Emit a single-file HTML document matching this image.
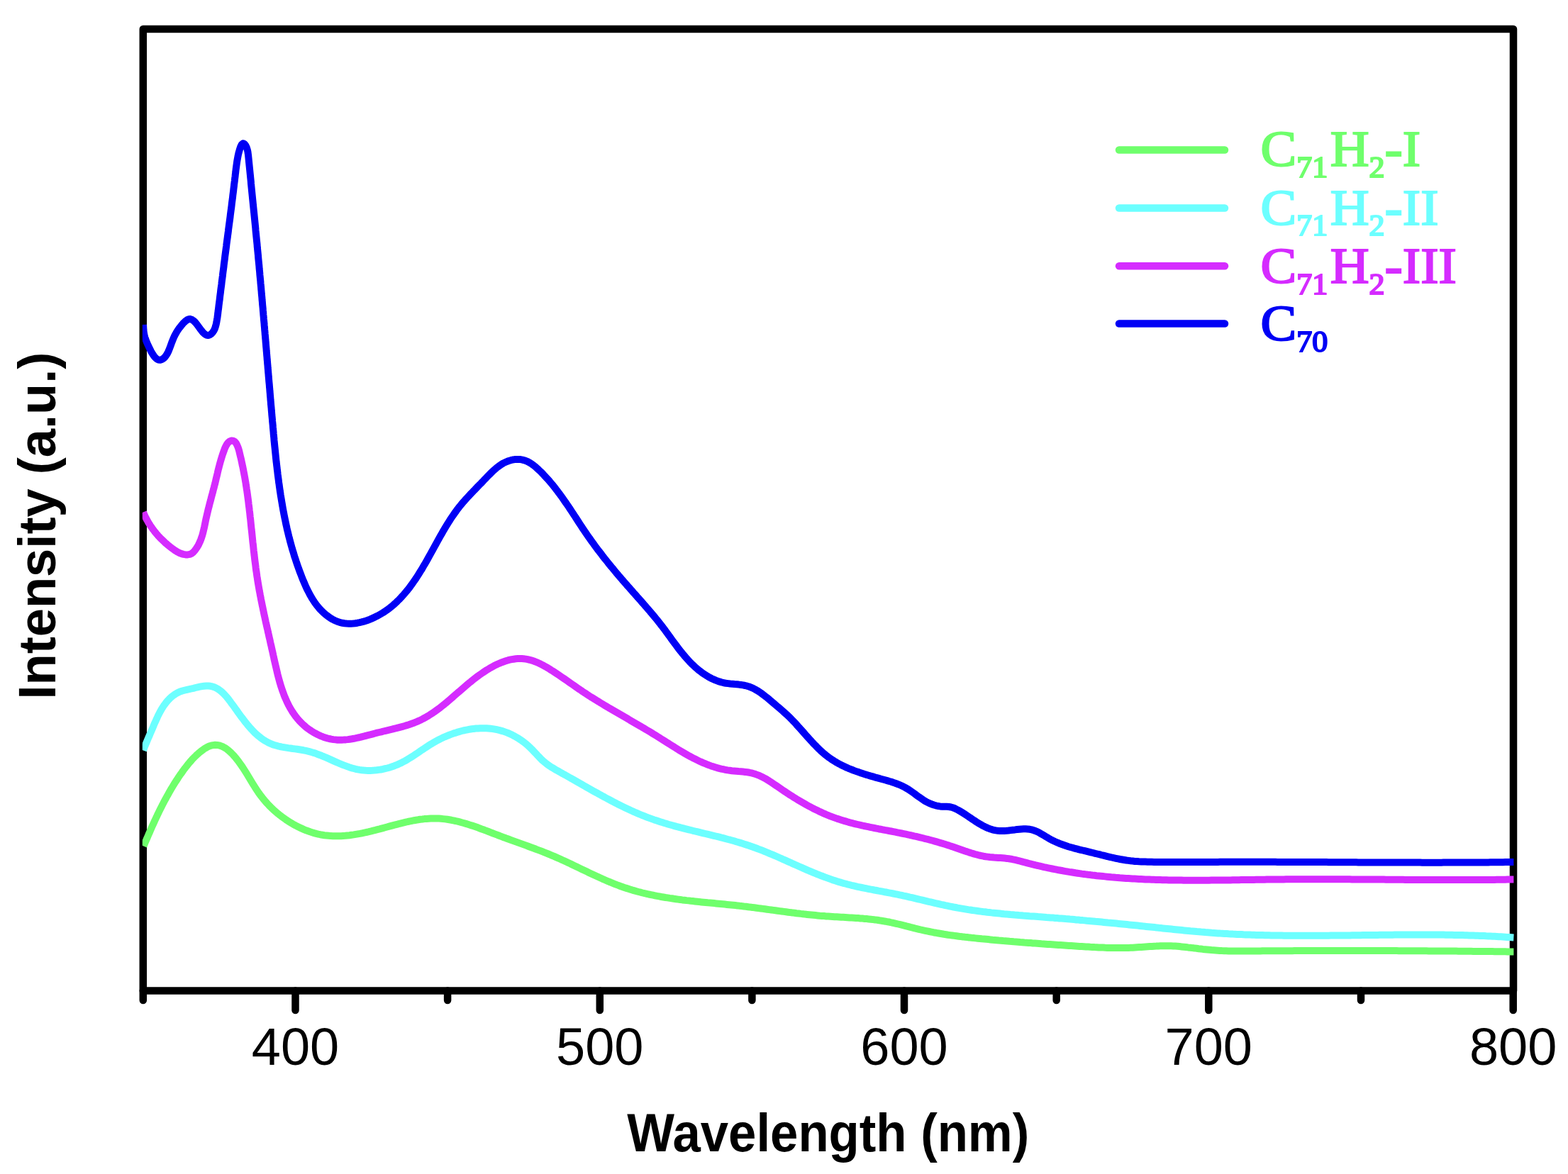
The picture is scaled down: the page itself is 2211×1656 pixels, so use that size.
<!DOCTYPE html>
<html><head><meta charset="utf-8"><title>Intensity vs Wavelength</title>
<style>
html,body{margin:0;padding:0;background:#fff;}
svg{display:block;}
.tl{font-family:"Liberation Sans",Arial,sans-serif;font-size:74px;fill:#000;text-anchor:middle;}
.al{font-family:"Liberation Sans",Arial,sans-serif;font-size:72.5px;font-weight:bold;fill:#000;text-anchor:middle;}
.lg{font-family:"Liberation Serif","Times New Roman",serif;font-size:76px;font-weight:normal;stroke-width:2.2px;}
.lg .sub{font-size:44px;}
</style></head>
<body>
<svg width="2211" height="1656" viewBox="0 0 2211 1656">
<rect width="2211" height="1656" fill="#fff"/>
<g stroke="#000" stroke-width="10.5" stroke-linecap="round">
<line x1="201.8" y1="1397.5" x2="201.8" y2="1411.0"/>
<line x1="416.5" y1="1397.5" x2="416.5" y2="1425.0"/>
<line x1="631.1" y1="1397.5" x2="631.1" y2="1411.0"/>
<line x1="845.8" y1="1397.5" x2="845.8" y2="1425.0"/>
<line x1="1060.4" y1="1397.5" x2="1060.4" y2="1411.0"/>
<line x1="1275.0" y1="1397.5" x2="1275.0" y2="1425.0"/>
<line x1="1489.7" y1="1397.5" x2="1489.7" y2="1411.0"/>
<line x1="1704.3" y1="1397.5" x2="1704.3" y2="1425.0"/>
<line x1="1919.0" y1="1397.5" x2="1919.0" y2="1411.0"/>
<line x1="2133.7" y1="1397.5" x2="2133.7" y2="1425.0"/>
</g>
<rect x="201.8" y="41.0" width="1932.2" height="1356.5" fill="none" stroke="#000" stroke-width="10.5" stroke-linejoin="round"/>
<defs><clipPath id="pa"><rect x="200.8" y="0" width="1934" height="1656"/></clipPath></defs>
<g fill="none" stroke-width="10" stroke-linecap="butt" stroke-linejoin="round" clip-path="url(#pa)">
<path d="M202.5 1193.5 L203.7 1190.7 L204.9 1187.9 L206.1 1185.1 L207.3 1182.4 L208.5 1179.6 L209.7 1176.8 L210.9 1174.1 L212.1 1171.3 L213.3 1168.5 L214.5 1165.8 L215.7 1163.1 L217.0 1160.3 L218.2 1157.6 L219.5 1154.9 L220.8 1152.2 L222.0 1149.5 L223.3 1146.8 L224.6 1144.1 L225.9 1141.5 L227.3 1138.8 L228.6 1136.1 L230.0 1133.5 L231.4 1130.8 L232.8 1128.2 L234.2 1125.6 L235.6 1123.0 L237.1 1120.4 L238.5 1117.8 L240.0 1115.2 L241.5 1112.6 L243.1 1110.0 L244.6 1107.5 L246.2 1104.9 L247.8 1102.4 L249.5 1099.9 L251.1 1097.3 L252.8 1094.8 L254.5 1092.3 L256.3 1089.9 L258.0 1087.4 L259.8 1084.9 L261.7 1082.5 L263.6 1080.1 L265.5 1077.7 L267.4 1075.4 L269.4 1073.1 L271.4 1070.8 L273.5 1068.6 L275.7 1066.5 L277.8 1064.4 L280.1 1062.4 L282.4 1060.5 L284.7 1058.7 L287.1 1056.9 L289.6 1055.3 L292.2 1053.8 L294.8 1052.6 L297.6 1051.7 L300.4 1051.1 L303.3 1050.8 L306.2 1050.9 L309.0 1051.4 L311.7 1052.2 L314.4 1053.4 L317.0 1054.8 L319.5 1056.4 L321.9 1058.3 L324.3 1060.4 L326.6 1062.6 L328.8 1064.9 L331.0 1067.4 L333.0 1069.8 L335.0 1072.3 L336.9 1074.8 L338.7 1077.3 L340.5 1079.9 L342.2 1082.4 L343.8 1084.9 L345.4 1087.4 L347.0 1089.9 L348.6 1092.5 L350.1 1095.0 L351.6 1097.5 L353.1 1100.0 L354.6 1102.5 L356.1 1105.0 L357.6 1107.4 L359.2 1109.9 L360.7 1112.3 L362.3 1114.7 L363.9 1117.1 L365.6 1119.5 L367.3 1121.9 L369.1 1124.2 L370.9 1126.5 L372.8 1128.8 L374.8 1131.1 L376.8 1133.3 L378.8 1135.5 L380.9 1137.7 L383.1 1139.8 L385.3 1141.9 L387.6 1143.9 L389.9 1145.9 L392.2 1147.9 L394.6 1149.8 L397.0 1151.7 L399.5 1153.5 L402.0 1155.3 L404.5 1157.1 L407.1 1158.7 L409.7 1160.4 L412.4 1161.9 L415.0 1163.5 L417.7 1164.9 L420.4 1166.3 L423.2 1167.6 L426.0 1168.9 L428.7 1170.1 L431.6 1171.3 L434.4 1172.3 L437.2 1173.3 L440.1 1174.2 L443.0 1175.1 L445.8 1175.9 L448.7 1176.6 L451.6 1177.2 L454.6 1177.7 L457.5 1178.2 L460.4 1178.5 L463.3 1178.8 L466.2 1179.1 L469.2 1179.2 L472.1 1179.3 L475.0 1179.3 L478.0 1179.3 L480.9 1179.2 L483.9 1179.0 L486.8 1178.8 L489.8 1178.5 L492.7 1178.2 L495.7 1177.8 L498.6 1177.4 L501.6 1176.9 L504.6 1176.4 L507.5 1175.9 L510.5 1175.3 L513.4 1174.7 L516.4 1174.0 L519.3 1173.4 L522.3 1172.7 L525.2 1171.9 L528.2 1171.2 L531.1 1170.4 L534.1 1169.7 L537.0 1168.9 L540.0 1168.1 L542.9 1167.3 L545.8 1166.5 L548.8 1165.7 L551.7 1164.9 L554.6 1164.1 L557.5 1163.3 L560.5 1162.6 L563.4 1161.8 L566.3 1161.1 L569.3 1160.4 L572.2 1159.7 L575.1 1159.0 L578.0 1158.4 L580.9 1157.8 L583.9 1157.2 L586.8 1156.7 L589.7 1156.3 L592.6 1155.8 L595.6 1155.5 L598.5 1155.1 L601.4 1154.9 L604.3 1154.7 L607.2 1154.5 L610.2 1154.4 L613.1 1154.4 L616.0 1154.5 L618.9 1154.6 L621.9 1154.8 L624.8 1155.1 L627.7 1155.4 L630.6 1155.8 L633.6 1156.3 L636.5 1156.8 L639.4 1157.4 L642.3 1158.0 L645.3 1158.7 L648.2 1159.4 L651.1 1160.2 L654.0 1161.0 L657.0 1161.9 L659.9 1162.8 L662.8 1163.7 L665.7 1164.6 L668.6 1165.6 L671.5 1166.6 L674.4 1167.6 L677.3 1168.7 L680.2 1169.8 L683.1 1170.8 L686.0 1171.9 L688.9 1173.0 L691.7 1174.1 L694.6 1175.2 L697.5 1176.3 L700.4 1177.4 L703.2 1178.5 L706.1 1179.6 L708.9 1180.7 L711.8 1181.7 L714.6 1182.8 L717.4 1183.8 L720.3 1184.9 L723.1 1185.9 L725.9 1186.9 L728.7 1187.9 L731.5 1188.9 L734.3 1189.9 L737.1 1190.9 L739.9 1191.9 L742.7 1192.9 L745.5 1194.0 L748.2 1195.0 L751.0 1196.0 L753.8 1197.0 L756.5 1198.1 L759.3 1199.1 L762.1 1200.1 L764.8 1201.2 L767.6 1202.3 L770.3 1203.4 L773.1 1204.5 L775.8 1205.6 L778.6 1206.8 L781.3 1207.9 L784.0 1209.1 L786.8 1210.3 L789.5 1211.5 L792.2 1212.8 L795.0 1214.0 L797.7 1215.3 L800.4 1216.6 L803.1 1217.8 L805.9 1219.1 L808.6 1220.4 L811.3 1221.7 L814.0 1223.0 L816.8 1224.4 L819.5 1225.7 L822.2 1227.0 L825.0 1228.3 L827.7 1229.6 L830.4 1230.9 L833.2 1232.2 L835.9 1233.5 L838.7 1234.8 L841.4 1236.0 L844.2 1237.3 L846.9 1238.5 L849.7 1239.8 L852.5 1241.0 L855.2 1242.2 L858.0 1243.4 L860.8 1244.5 L863.6 1245.7 L866.4 1246.8 L869.2 1247.9 L872.0 1248.9 L874.8 1250.0 L877.6 1251.0 L880.4 1252.0 L883.3 1252.9 L886.1 1253.8 L889.0 1254.7 L891.8 1255.6 L894.7 1256.4 L897.6 1257.2 L900.4 1258.0 L903.3 1258.7 L906.2 1259.5 L909.1 1260.2 L912.0 1260.8 L914.9 1261.5 L917.8 1262.1 L920.8 1262.7 L923.7 1263.3 L926.6 1263.9 L929.5 1264.4 L932.5 1265.0 L935.4 1265.5 L938.4 1266.0 L941.3 1266.4 L944.3 1266.9 L947.2 1267.3 L950.2 1267.8 L953.2 1268.2 L956.1 1268.6 L959.1 1269.0 L962.1 1269.4 L965.1 1269.7 L968.1 1270.1 L971.0 1270.4 L974.0 1270.8 L977.0 1271.1 L980.0 1271.4 L983.0 1271.7 L986.0 1272.1 L989.0 1272.4 L992.0 1272.7 L995.0 1273.0 L998.0 1273.3 L1001.0 1273.5 L1004.0 1273.8 L1007.0 1274.1 L1010.0 1274.4 L1013.0 1274.7 L1016.0 1275.0 L1019.0 1275.3 L1022.0 1275.6 L1025.0 1275.9 L1028.0 1276.2 L1031.0 1276.5 L1033.9 1276.8 L1036.9 1277.1 L1039.9 1277.4 L1042.9 1277.8 L1045.9 1278.1 L1048.9 1278.5 L1051.9 1278.8 L1054.9 1279.2 L1057.8 1279.6 L1060.8 1279.9 L1063.8 1280.3 L1066.8 1280.7 L1069.7 1281.1 L1072.7 1281.5 L1075.7 1281.9 L1078.7 1282.3 L1081.6 1282.7 L1084.6 1283.1 L1087.6 1283.5 L1090.5 1283.9 L1093.5 1284.3 L1096.5 1284.7 L1099.5 1285.1 L1102.4 1285.5 L1105.4 1285.9 L1108.4 1286.3 L1111.3 1286.7 L1114.3 1287.1 L1117.3 1287.4 L1120.2 1287.8 L1123.2 1288.2 L1126.2 1288.5 L1129.2 1288.9 L1132.1 1289.2 L1135.1 1289.6 L1138.1 1289.9 L1141.1 1290.2 L1144.1 1290.5 L1147.0 1290.8 L1150.0 1291.1 L1153.0 1291.4 L1156.0 1291.7 L1159.0 1291.9 L1162.0 1292.1 L1165.0 1292.4 L1168.0 1292.6 L1171.0 1292.8 L1174.0 1293.0 L1177.0 1293.2 L1180.0 1293.3 L1183.0 1293.5 L1186.0 1293.7 L1189.0 1293.8 L1192.0 1294.0 L1195.0 1294.2 L1198.0 1294.4 L1201.0 1294.5 L1204.1 1294.7 L1207.1 1294.9 L1210.1 1295.1 L1213.1 1295.4 L1216.1 1295.6 L1219.1 1295.9 L1222.0 1296.1 L1225.0 1296.4 L1228.0 1296.7 L1231.0 1297.1 L1234.0 1297.4 L1237.0 1297.8 L1239.9 1298.3 L1242.9 1298.7 L1245.9 1299.2 L1248.8 1299.7 L1251.8 1300.3 L1254.7 1300.8 L1257.7 1301.5 L1260.6 1302.1 L1263.5 1302.8 L1266.5 1303.5 L1269.4 1304.2 L1272.3 1304.9 L1275.2 1305.6 L1278.1 1306.4 L1281.1 1307.1 L1284.0 1307.9 L1286.9 1308.6 L1289.8 1309.4 L1292.8 1310.1 L1295.7 1310.8 L1298.6 1311.5 L1301.5 1312.2 L1304.5 1312.8 L1307.4 1313.4 L1310.4 1314.0 L1313.3 1314.6 L1316.3 1315.2 L1319.2 1315.7 L1322.2 1316.3 L1325.1 1316.8 L1328.1 1317.3 L1331.0 1317.8 L1334.0 1318.2 L1336.9 1318.7 L1339.9 1319.1 L1342.9 1319.5 L1345.9 1319.9 L1348.8 1320.3 L1351.8 1320.7 L1354.8 1321.1 L1357.8 1321.4 L1360.7 1321.8 L1363.7 1322.1 L1366.7 1322.4 L1369.7 1322.8 L1372.7 1323.1 L1375.6 1323.4 L1378.6 1323.7 L1381.6 1324.0 L1384.6 1324.3 L1387.6 1324.5 L1390.6 1324.8 L1393.6 1325.1 L1396.6 1325.4 L1399.5 1325.7 L1402.5 1325.9 L1405.5 1326.2 L1408.5 1326.5 L1411.5 1326.7 L1414.5 1327.0 L1417.5 1327.2 L1420.5 1327.5 L1423.5 1327.8 L1426.5 1328.0 L1429.5 1328.3 L1432.5 1328.5 L1435.5 1328.7 L1438.5 1329.0 L1441.5 1329.2 L1444.4 1329.5 L1447.4 1329.7 L1450.4 1329.9 L1453.4 1330.1 L1456.4 1330.4 L1459.4 1330.6 L1462.4 1330.8 L1465.4 1331.0 L1468.4 1331.3 L1471.4 1331.5 L1474.4 1331.7 L1477.4 1331.9 L1480.4 1332.1 L1483.4 1332.3 L1486.4 1332.5 L1489.4 1332.7 L1492.4 1332.9 L1495.4 1333.1 L1498.4 1333.3 L1501.4 1333.5 L1504.4 1333.7 L1507.4 1333.9 L1510.4 1334.1 L1513.4 1334.3 L1516.4 1334.5 L1519.4 1334.7 L1522.4 1334.9 L1525.4 1335.0 L1528.4 1335.2 L1531.4 1335.4 L1534.4 1335.6 L1537.4 1335.8 L1540.4 1335.9 L1543.4 1336.1 L1546.4 1336.2 L1549.4 1336.4 L1552.4 1336.5 L1555.4 1336.6 L1558.4 1336.8 L1561.3 1336.9 L1564.3 1336.9 L1567.3 1337.0 L1570.3 1337.1 L1573.3 1337.1 L1576.3 1337.1 L1579.3 1337.1 L1582.3 1337.1 L1585.3 1337.1 L1588.3 1337.0 L1591.3 1336.9 L1594.3 1336.8 L1597.3 1336.7 L1600.3 1336.5 L1603.3 1336.3 L1606.3 1336.1 L1609.3 1335.9 L1612.3 1335.7 L1615.3 1335.5 L1618.3 1335.3 L1621.3 1335.1 L1624.3 1334.9 L1627.4 1334.7 L1630.4 1334.6 L1633.4 1334.4 L1636.4 1334.3 L1639.4 1334.2 L1642.4 1334.2 L1645.4 1334.2 L1648.3 1334.2 L1651.3 1334.3 L1654.3 1334.4 L1657.3 1334.6 L1660.3 1334.8 L1663.3 1335.1 L1666.3 1335.4 L1669.3 1335.7 L1672.3 1336.0 L1675.3 1336.4 L1678.3 1336.7 L1681.3 1337.1 L1684.3 1337.4 L1687.3 1337.8 L1690.2 1338.2 L1693.2 1338.5 L1696.2 1338.9 L1699.2 1339.2 L1702.2 1339.5 L1705.2 1339.8 L1708.2 1340.1 L1711.2 1340.3 L1714.2 1340.5 L1717.1 1340.7 L1720.1 1340.9 L1723.1 1341.1 L1726.1 1341.2 L1729.1 1341.3 L1732.1 1341.4 L1735.1 1341.4 L1738.1 1341.5 L1741.1 1341.5 L1744.1 1341.5 L1747.1 1341.5 L1750.1 1341.5 L1753.1 1341.5 L1756.1 1341.5 L1759.1 1341.5 L1762.1 1341.5 L1765.1 1341.4 L1768.1 1341.4 L1771.2 1341.4 L1774.2 1341.4 L1777.2 1341.4 L1780.2 1341.3 L1783.2 1341.3 L1786.2 1341.3 L1789.2 1341.3 L1792.2 1341.3 L1795.2 1341.3 L1798.2 1341.3 L1801.2 1341.2 L1804.2 1341.2 L1807.2 1341.2 L1810.2 1341.2 L1813.2 1341.2 L1816.2 1341.2 L1819.2 1341.2 L1822.2 1341.2 L1825.2 1341.1 L1828.2 1341.1 L1831.2 1341.1 L1834.2 1341.1 L1837.2 1341.1 L1840.2 1341.1 L1843.2 1341.1 L1846.2 1341.1 L1849.2 1341.1 L1852.2 1341.1 L1855.2 1341.1 L1858.2 1341.1 L1861.2 1341.0 L1864.2 1341.0 L1867.2 1341.0 L1870.2 1341.0 L1873.2 1341.0 L1876.3 1341.0 L1879.3 1341.0 L1882.3 1341.0 L1885.3 1341.0 L1888.3 1341.0 L1891.3 1341.0 L1894.3 1341.0 L1897.3 1341.0 L1900.3 1341.0 L1903.3 1341.0 L1906.3 1341.0 L1909.3 1341.0 L1912.3 1341.0 L1915.3 1341.0 L1918.3 1341.0 L1921.3 1341.0 L1924.3 1341.0 L1927.3 1341.0 L1930.3 1341.0 L1933.3 1341.0 L1936.3 1341.1 L1939.3 1341.1 L1942.3 1341.1 L1945.3 1341.1 L1948.3 1341.1 L1951.3 1341.1 L1954.3 1341.1 L1957.3 1341.1 L1960.3 1341.1 L1963.3 1341.1 L1966.3 1341.1 L1969.3 1341.1 L1972.3 1341.2 L1975.3 1341.2 L1978.3 1341.2 L1981.3 1341.2 L1984.3 1341.2 L1987.4 1341.2 L1990.4 1341.2 L1993.4 1341.2 L1996.4 1341.3 L1999.4 1341.3 L2002.4 1341.3 L2005.4 1341.3 L2008.4 1341.3 L2011.4 1341.3 L2014.4 1341.4 L2017.4 1341.4 L2020.4 1341.4 L2023.4 1341.4 L2026.4 1341.4 L2029.4 1341.5 L2032.4 1341.5 L2035.4 1341.5 L2038.4 1341.5 L2041.4 1341.5 L2044.4 1341.6 L2047.4 1341.6 L2050.4 1341.6 L2053.4 1341.6 L2056.4 1341.7 L2059.4 1341.7 L2062.4 1341.7 L2065.4 1341.7 L2068.4 1341.8 L2071.4 1341.8 L2074.4 1341.8 L2077.4 1341.9 L2080.4 1341.9 L2083.4 1341.9 L2086.4 1341.9 L2089.5 1342.0 L2092.5 1342.0 L2095.5 1342.0 L2098.5 1342.1 L2101.5 1342.1 L2104.5 1342.1 L2107.5 1342.2 L2110.5 1342.2 L2113.5 1342.2 L2116.5 1342.3 L2119.5 1342.3 L2122.5 1342.3 L2125.5 1342.4 L2128.5 1342.4 L2131.5 1342.5 L2134.5 1342.5" stroke="#6fff6c"/>
<path d="M202.0 1058.5 L203.1 1055.7 L204.2 1052.8 L205.4 1050.0 L206.5 1047.3 L207.7 1044.5 L208.8 1041.8 L210.0 1039.1 L211.2 1036.4 L212.3 1033.7 L213.5 1031.0 L214.7 1028.2 L215.9 1025.4 L217.0 1022.6 L218.2 1019.8 L219.5 1017.1 L220.7 1014.3 L222.0 1011.5 L223.3 1008.7 L224.7 1006.0 L226.1 1003.4 L227.6 1000.7 L229.2 998.1 L230.8 995.6 L232.6 993.2 L234.4 990.8 L236.3 988.5 L238.3 986.4 L240.4 984.3 L242.6 982.4 L244.9 980.6 L247.3 979.0 L249.8 977.5 L252.4 976.2 L255.1 975.1 L258.0 974.3 L260.9 973.5 L263.8 972.8 L266.8 972.2 L269.8 971.5 L272.8 970.8 L275.8 970.0 L278.8 969.3 L281.8 968.7 L284.8 968.1 L287.8 967.7 L290.8 967.5 L293.7 967.5 L296.7 967.8 L299.5 968.4 L302.2 969.3 L304.8 970.5 L307.3 971.9 L309.6 973.5 L311.9 975.2 L314.1 977.2 L316.2 979.3 L318.2 981.5 L320.2 983.8 L322.1 986.2 L324.0 988.7 L325.8 991.2 L327.7 993.7 L329.5 996.2 L331.3 998.7 L333.2 1001.2 L335.0 1003.8 L336.8 1006.3 L338.6 1008.8 L340.4 1011.3 L342.3 1013.7 L344.1 1016.2 L346.0 1018.6 L347.9 1020.9 L349.8 1023.3 L351.7 1025.5 L353.7 1027.8 L355.7 1029.9 L357.7 1032.0 L359.8 1034.1 L361.9 1036.0 L364.1 1037.9 L366.3 1039.7 L368.6 1041.5 L370.9 1043.1 L373.2 1044.6 L375.7 1046.0 L378.2 1047.4 L380.7 1048.6 L383.4 1049.7 L386.1 1050.7 L388.9 1051.5 L391.7 1052.3 L394.6 1053.0 L397.5 1053.6 L400.5 1054.1 L403.5 1054.6 L406.6 1055.1 L409.6 1055.5 L412.7 1056.0 L415.8 1056.4 L418.9 1056.8 L422.0 1057.3 L425.1 1057.8 L428.1 1058.3 L431.2 1058.9 L434.2 1059.6 L437.2 1060.4 L440.1 1061.2 L443.0 1062.1 L445.9 1063.1 L448.8 1064.2 L451.6 1065.2 L454.4 1066.4 L457.2 1067.5 L460.0 1068.7 L462.8 1069.9 L465.5 1071.1 L468.3 1072.4 L471.0 1073.6 L473.8 1074.8 L476.5 1076.0 L479.2 1077.2 L482.0 1078.3 L484.7 1079.4 L487.5 1080.4 L490.2 1081.4 L493.0 1082.4 L495.8 1083.3 L498.6 1084.0 L501.5 1084.8 L504.3 1085.4 L507.2 1085.9 L510.1 1086.3 L513.1 1086.6 L516.0 1086.8 L519.0 1086.9 L522.0 1086.9 L525.0 1086.8 L528.0 1086.6 L531.1 1086.3 L534.1 1085.9 L537.1 1085.5 L540.1 1084.9 L543.0 1084.2 L546.0 1083.5 L548.9 1082.7 L551.8 1081.8 L554.7 1080.8 L557.5 1079.7 L560.3 1078.6 L563.1 1077.3 L565.8 1076.1 L568.4 1074.7 L571.0 1073.3 L573.6 1071.8 L576.1 1070.3 L578.6 1068.8 L581.1 1067.2 L583.6 1065.6 L586.1 1063.9 L588.5 1062.3 L591.0 1060.6 L593.4 1058.9 L595.9 1057.3 L598.4 1055.6 L600.9 1054.0 L603.4 1052.3 L605.9 1050.7 L608.5 1049.2 L611.0 1047.6 L613.7 1046.1 L616.3 1044.7 L619.0 1043.3 L621.8 1041.9 L624.5 1040.6 L627.3 1039.3 L630.1 1038.1 L632.9 1037.0 L635.8 1035.9 L638.7 1034.8 L641.6 1033.9 L644.5 1032.9 L647.4 1032.1 L650.3 1031.3 L653.3 1030.5 L656.2 1029.9 L659.2 1029.3 L662.2 1028.7 L665.2 1028.3 L668.1 1027.9 L671.1 1027.6 L674.1 1027.4 L677.1 1027.2 L680.0 1027.2 L683.0 1027.2 L686.0 1027.3 L688.9 1027.5 L691.9 1027.8 L694.8 1028.1 L697.7 1028.6 L700.6 1029.2 L703.5 1029.8 L706.3 1030.6 L709.2 1031.4 L712.0 1032.4 L714.8 1033.4 L717.6 1034.5 L720.3 1035.8 L723.0 1037.1 L725.7 1038.5 L728.3 1040.0 L730.9 1041.6 L733.4 1043.2 L735.9 1044.9 L738.4 1046.7 L740.8 1048.6 L743.1 1050.6 L745.4 1052.6 L747.6 1054.7 L749.8 1056.8 L751.9 1059.0 L754.0 1061.2 L756.1 1063.4 L758.1 1065.6 L760.2 1067.8 L762.3 1070.0 L764.4 1072.1 L766.6 1074.0 L768.9 1075.9 L771.2 1077.7 L773.6 1079.5 L776.0 1081.1 L778.5 1082.7 L781.1 1084.2 L783.6 1085.8 L786.2 1087.2 L788.8 1088.7 L791.4 1090.1 L794.0 1091.6 L796.7 1093.0 L799.3 1094.5 L801.9 1096.0 L804.5 1097.5 L807.1 1098.9 L809.7 1100.4 L812.3 1101.9 L814.9 1103.4 L817.6 1104.9 L820.2 1106.4 L822.8 1107.9 L825.4 1109.3 L828.0 1110.8 L830.7 1112.3 L833.3 1113.8 L835.9 1115.3 L838.5 1116.8 L841.2 1118.2 L843.8 1119.7 L846.5 1121.1 L849.1 1122.6 L851.7 1124.0 L854.4 1125.5 L857.0 1126.9 L859.7 1128.3 L862.4 1129.7 L865.0 1131.1 L867.7 1132.5 L870.4 1133.9 L873.1 1135.2 L875.8 1136.6 L878.4 1137.9 L881.1 1139.2 L883.9 1140.5 L886.6 1141.7 L889.3 1143.0 L892.0 1144.2 L894.7 1145.5 L897.5 1146.7 L900.2 1147.8 L903.0 1149.0 L905.7 1150.1 L908.5 1151.2 L911.3 1152.3 L914.1 1153.4 L916.9 1154.4 L919.7 1155.4 L922.5 1156.4 L925.3 1157.3 L928.2 1158.3 L931.0 1159.2 L933.8 1160.1 L936.7 1161.0 L939.5 1161.8 L942.4 1162.7 L945.3 1163.5 L948.2 1164.3 L951.0 1165.1 L953.9 1165.9 L956.8 1166.6 L959.7 1167.4 L962.6 1168.1 L965.5 1168.9 L968.4 1169.6 L971.3 1170.3 L974.2 1171.0 L977.1 1171.8 L980.0 1172.5 L983.0 1173.2 L985.9 1173.9 L988.8 1174.6 L991.7 1175.3 L994.6 1176.0 L997.5 1176.7 L1000.5 1177.4 L1003.4 1178.1 L1006.3 1178.8 L1009.2 1179.5 L1012.1 1180.2 L1015.0 1180.9 L1017.9 1181.7 L1020.8 1182.4 L1023.7 1183.2 L1026.6 1184.0 L1029.5 1184.7 L1032.4 1185.5 L1035.3 1186.3 L1038.2 1187.2 L1041.0 1188.0 L1043.9 1188.9 L1046.8 1189.8 L1049.6 1190.7 L1052.5 1191.6 L1055.3 1192.5 L1058.1 1193.5 L1061.0 1194.5 L1063.8 1195.5 L1066.6 1196.5 L1069.4 1197.6 L1072.2 1198.6 L1075.0 1199.7 L1077.8 1200.8 L1080.6 1202.0 L1083.3 1203.1 L1086.1 1204.3 L1088.9 1205.4 L1091.7 1206.6 L1094.4 1207.8 L1097.2 1209.0 L1099.9 1210.2 L1102.7 1211.4 L1105.4 1212.7 L1108.2 1213.9 L1110.9 1215.1 L1113.7 1216.3 L1116.4 1217.6 L1119.2 1218.8 L1121.9 1220.0 L1124.7 1221.3 L1127.4 1222.5 L1130.2 1223.7 L1132.9 1224.9 L1135.7 1226.1 L1138.5 1227.3 L1141.2 1228.5 L1144.0 1229.6 L1146.8 1230.8 L1149.5 1231.9 L1152.3 1233.1 L1155.1 1234.2 L1157.9 1235.3 L1160.7 1236.3 L1163.5 1237.4 L1166.3 1238.4 L1169.1 1239.4 L1171.9 1240.4 L1174.8 1241.4 L1177.6 1242.3 L1180.4 1243.2 L1183.3 1244.1 L1186.2 1244.9 L1189.0 1245.8 L1191.9 1246.5 L1194.8 1247.3 L1197.7 1248.0 L1200.6 1248.8 L1203.5 1249.4 L1206.5 1250.1 L1209.4 1250.8 L1212.3 1251.4 L1215.2 1252.0 L1218.2 1252.6 L1221.1 1253.2 L1224.1 1253.8 L1227.0 1254.4 L1230.0 1254.9 L1232.9 1255.5 L1235.9 1256.0 L1238.9 1256.6 L1241.8 1257.1 L1244.8 1257.7 L1247.8 1258.3 L1250.7 1258.8 L1253.7 1259.4 L1256.6 1259.9 L1259.6 1260.5 L1262.5 1261.1 L1265.5 1261.7 L1268.4 1262.3 L1271.4 1262.9 L1274.3 1263.6 L1277.3 1264.2 L1280.2 1264.9 L1283.1 1265.6 L1286.1 1266.2 L1289.0 1266.9 L1291.9 1267.6 L1294.9 1268.3 L1297.8 1269.0 L1300.7 1269.7 L1303.6 1270.4 L1306.6 1271.1 L1309.5 1271.8 L1312.4 1272.4 L1315.3 1273.1 L1318.2 1273.8 L1321.2 1274.5 L1324.1 1275.1 L1327.0 1275.8 L1330.0 1276.4 L1332.9 1277.1 L1335.8 1277.7 L1338.7 1278.3 L1341.7 1278.9 L1344.6 1279.5 L1347.6 1280.0 L1350.5 1280.6 L1353.5 1281.1 L1356.4 1281.6 L1359.4 1282.1 L1362.3 1282.6 L1365.3 1283.1 L1368.2 1283.5 L1371.2 1284.0 L1374.2 1284.4 L1377.1 1284.8 L1380.1 1285.2 L1383.1 1285.6 L1386.0 1286.0 L1389.0 1286.3 L1392.0 1286.7 L1395.0 1287.0 L1398.0 1287.4 L1400.9 1287.7 L1403.9 1288.0 L1406.9 1288.3 L1409.9 1288.6 L1412.9 1288.9 L1415.9 1289.2 L1418.9 1289.4 L1421.8 1289.7 L1424.8 1290.0 L1427.8 1290.2 L1430.8 1290.5 L1433.8 1290.7 L1436.8 1291.0 L1439.8 1291.2 L1442.8 1291.5 L1445.8 1291.7 L1448.8 1291.9 L1451.8 1292.2 L1454.8 1292.4 L1457.8 1292.6 L1460.8 1292.8 L1463.8 1293.1 L1466.8 1293.3 L1469.8 1293.5 L1472.7 1293.7 L1475.7 1294.0 L1478.7 1294.2 L1481.7 1294.4 L1484.7 1294.6 L1487.7 1294.9 L1490.7 1295.1 L1493.7 1295.4 L1496.7 1295.6 L1499.7 1295.8 L1502.7 1296.1 L1505.6 1296.3 L1508.6 1296.6 L1511.6 1296.8 L1514.6 1297.1 L1517.6 1297.4 L1520.6 1297.6 L1523.6 1297.9 L1526.6 1298.1 L1529.5 1298.4 L1532.5 1298.7 L1535.5 1298.9 L1538.5 1299.2 L1541.5 1299.5 L1544.5 1299.8 L1547.4 1300.0 L1550.4 1300.3 L1553.4 1300.6 L1556.4 1300.9 L1559.4 1301.2 L1562.3 1301.5 L1565.3 1301.7 L1568.3 1302.0 L1571.3 1302.3 L1574.3 1302.6 L1577.3 1302.9 L1580.2 1303.2 L1583.2 1303.5 L1586.2 1303.8 L1589.2 1304.1 L1592.2 1304.4 L1595.1 1304.7 L1598.1 1305.0 L1601.1 1305.3 L1604.1 1305.6 L1607.1 1305.9 L1610.0 1306.2 L1613.0 1306.6 L1616.0 1306.9 L1619.0 1307.2 L1622.0 1307.5 L1624.9 1307.8 L1627.9 1308.1 L1630.9 1308.4 L1633.9 1308.8 L1636.9 1309.1 L1639.9 1309.4 L1642.8 1309.7 L1645.8 1310.0 L1648.8 1310.3 L1651.8 1310.6 L1654.8 1310.9 L1657.8 1311.2 L1660.7 1311.5 L1663.7 1311.8 L1666.7 1312.1 L1669.7 1312.4 L1672.7 1312.7 L1675.7 1313.0 L1678.7 1313.3 L1681.6 1313.5 L1684.6 1313.8 L1687.6 1314.1 L1690.6 1314.3 L1693.6 1314.6 L1696.6 1314.8 L1699.6 1315.1 L1702.6 1315.3 L1705.5 1315.5 L1708.5 1315.8 L1711.5 1316.0 L1714.5 1316.2 L1717.5 1316.4 L1720.5 1316.6 L1723.5 1316.7 L1726.5 1316.9 L1729.5 1317.1 L1732.5 1317.3 L1735.5 1317.4 L1738.5 1317.6 L1741.4 1317.7 L1744.4 1317.9 L1747.4 1318.0 L1750.4 1318.1 L1753.4 1318.3 L1756.4 1318.4 L1759.4 1318.5 L1762.4 1318.6 L1765.4 1318.7 L1768.4 1318.8 L1771.4 1318.9 L1774.4 1319.0 L1777.4 1319.1 L1780.4 1319.1 L1783.4 1319.2 L1786.4 1319.3 L1789.4 1319.3 L1792.4 1319.4 L1795.4 1319.4 L1798.4 1319.5 L1801.4 1319.5 L1804.4 1319.6 L1807.4 1319.6 L1810.4 1319.7 L1813.4 1319.7 L1816.4 1319.7 L1819.4 1319.7 L1822.4 1319.8 L1825.4 1319.8 L1828.4 1319.8 L1831.4 1319.8 L1834.4 1319.8 L1837.4 1319.8 L1840.4 1319.8 L1843.4 1319.8 L1846.4 1319.8 L1849.4 1319.8 L1852.4 1319.8 L1855.4 1319.8 L1858.4 1319.8 L1861.4 1319.7 L1864.4 1319.7 L1867.4 1319.7 L1870.4 1319.7 L1873.4 1319.7 L1876.4 1319.6 L1879.4 1319.6 L1882.4 1319.6 L1885.4 1319.5 L1888.4 1319.5 L1891.4 1319.5 L1894.4 1319.5 L1897.5 1319.4 L1900.5 1319.4 L1903.5 1319.4 L1906.5 1319.3 L1909.5 1319.3 L1912.5 1319.2 L1915.5 1319.2 L1918.5 1319.2 L1921.5 1319.1 L1924.5 1319.1 L1927.5 1319.1 L1930.5 1319.0 L1933.5 1319.0 L1936.5 1318.9 L1939.5 1318.9 L1942.5 1318.9 L1945.5 1318.8 L1948.5 1318.8 L1951.5 1318.8 L1954.5 1318.7 L1957.5 1318.7 L1960.5 1318.7 L1963.5 1318.7 L1966.5 1318.6 L1969.6 1318.6 L1972.6 1318.6 L1975.6 1318.6 L1978.6 1318.5 L1981.6 1318.5 L1984.6 1318.5 L1987.6 1318.5 L1990.6 1318.5 L1993.6 1318.5 L1996.6 1318.5 L1999.6 1318.5 L2002.6 1318.5 L2005.6 1318.5 L2008.6 1318.5 L2011.6 1318.5 L2014.6 1318.5 L2017.6 1318.5 L2020.6 1318.5 L2023.6 1318.5 L2026.6 1318.6 L2029.6 1318.6 L2032.6 1318.6 L2035.6 1318.6 L2038.6 1318.7 L2041.6 1318.7 L2044.6 1318.8 L2047.6 1318.8 L2050.6 1318.9 L2053.6 1318.9 L2056.6 1319.0 L2059.6 1319.1 L2062.6 1319.1 L2065.6 1319.2 L2068.6 1319.3 L2071.6 1319.4 L2074.6 1319.5 L2077.6 1319.6 L2080.6 1319.7 L2083.6 1319.8 L2086.6 1319.9 L2089.6 1320.0 L2092.6 1320.1 L2095.6 1320.3 L2098.6 1320.4 L2101.6 1320.5 L2104.6 1320.7 L2107.6 1320.8 L2110.6 1321.0 L2113.5 1321.2 L2116.5 1321.3 L2119.5 1321.5 L2122.5 1321.7 L2125.5 1321.9 L2128.5 1322.1 L2131.5 1322.3 L2134.5 1322.5" stroke="#6cffff"/>
<path d="M202.0 722.5 L203.2 725.4 L204.5 728.2 L205.9 730.9 L207.3 733.6 L208.8 736.2 L210.3 738.8 L211.9 741.3 L213.6 743.7 L215.3 746.2 L217.1 748.5 L218.9 750.8 L220.8 753.1 L222.7 755.3 L224.7 757.5 L226.7 759.6 L228.9 761.7 L231.0 763.7 L233.2 765.8 L235.5 767.7 L237.8 769.7 L240.2 771.6 L242.7 773.5 L245.2 775.3 L247.7 777.0 L250.4 778.6 L253.1 780.0 L255.9 781.1 L258.7 781.9 L261.7 782.4 L264.7 782.4 L267.7 781.9 L270.4 780.7 L272.7 778.8 L274.7 776.5 L276.5 774.1 L278.2 771.5 L279.7 768.9 L281.0 766.3 L282.2 763.6 L283.3 760.8 L284.3 758.0 L285.2 755.2 L286.0 752.4 L286.7 749.5 L287.4 746.6 L288.1 743.6 L288.7 740.7 L289.3 737.7 L289.9 734.7 L290.5 731.8 L291.2 728.8 L291.9 725.9 L292.6 722.9 L293.3 719.9 L294.0 717.0 L294.8 714.1 L295.5 711.1 L296.3 708.2 L297.1 705.3 L297.8 702.3 L298.6 699.4 L299.4 696.5 L300.2 693.6 L300.9 690.7 L301.7 687.8 L302.4 685.0 L303.2 682.1 L303.9 679.2 L304.5 676.4 L305.2 673.5 L305.9 670.7 L306.6 667.8 L307.2 665.0 L307.9 662.1 L308.7 659.2 L309.4 656.3 L310.2 653.4 L311.0 650.5 L311.9 647.5 L312.8 644.6 L313.7 641.6 L314.8 638.5 L315.9 635.5 L317.0 632.4 L318.4 629.4 L319.9 626.7 L321.6 624.3 L323.7 622.6 L326.1 621.6 L328.7 621.7 L331.0 622.9 L333.0 625.3 L334.5 628.3 L335.7 631.2 L336.7 634.3 L337.5 637.3 L338.2 640.3 L338.9 643.3 L339.6 646.2 L340.3 649.2 L340.9 652.1 L341.5 655.0 L342.2 658.0 L342.8 660.9 L343.3 663.8 L343.9 666.7 L344.4 669.6 L345.0 672.5 L345.5 675.4 L346.0 678.3 L346.5 681.2 L346.9 684.2 L347.4 687.1 L347.8 690.0 L348.3 693.0 L348.7 695.9 L349.1 698.9 L349.5 701.9 L349.9 704.8 L350.3 707.8 L350.6 710.8 L351.0 713.8 L351.4 716.8 L351.7 719.8 L352.1 722.8 L352.4 725.8 L352.7 728.8 L353.1 731.8 L353.4 734.8 L353.7 737.9 L354.0 740.9 L354.3 743.9 L354.6 746.9 L355.0 749.9 L355.3 753.0 L355.6 756.0 L355.9 759.0 L356.2 762.0 L356.5 765.1 L356.9 768.1 L357.2 771.1 L357.5 774.1 L357.8 777.1 L358.2 780.1 L358.5 783.2 L358.9 786.2 L359.2 789.2 L359.6 792.2 L360.0 795.2 L360.4 798.2 L360.7 801.1 L361.1 804.1 L361.6 807.1 L362.0 810.1 L362.4 813.0 L362.9 816.0 L363.3 818.9 L363.8 821.9 L364.3 824.8 L364.8 827.8 L365.3 830.7 L365.8 833.6 L366.4 836.5 L366.9 839.4 L367.5 842.3 L368.0 845.2 L368.6 848.1 L369.2 851.0 L369.8 853.9 L370.4 856.8 L371.0 859.7 L371.6 862.6 L372.2 865.5 L372.8 868.4 L373.5 871.3 L374.1 874.2 L374.7 877.1 L375.4 880.0 L376.0 882.9 L376.7 885.8 L377.4 888.7 L378.0 891.7 L378.7 894.6 L379.3 897.5 L380.0 900.4 L380.7 903.4 L381.3 906.3 L382.0 909.3 L382.7 912.2 L383.3 915.2 L384.0 918.2 L384.7 921.2 L385.3 924.1 L386.0 927.1 L386.6 930.2 L387.3 933.2 L388.0 936.2 L388.7 939.2 L389.4 942.2 L390.1 945.2 L390.8 948.2 L391.5 951.2 L392.3 954.2 L393.1 957.2 L393.9 960.1 L394.7 963.1 L395.6 966.0 L396.5 968.9 L397.5 971.8 L398.4 974.6 L399.5 977.5 L400.5 980.3 L401.6 983.1 L402.8 985.8 L404.0 988.5 L405.2 991.2 L406.5 993.9 L407.9 996.5 L409.3 999.0 L410.8 1001.5 L412.3 1004.0 L414.0 1006.4 L415.6 1008.8 L417.4 1011.2 L419.2 1013.4 L421.1 1015.6 L423.1 1017.8 L425.1 1019.9 L427.3 1022.0 L429.5 1023.9 L431.8 1025.9 L434.2 1027.7 L436.7 1029.5 L439.2 1031.2 L441.8 1032.8 L444.5 1034.3 L447.2 1035.7 L450.0 1037.1 L452.8 1038.3 L455.6 1039.4 L458.5 1040.4 L461.3 1041.3 L464.2 1042.0 L467.1 1042.6 L470.0 1043.1 L472.9 1043.4 L475.8 1043.7 L478.7 1043.8 L481.7 1043.7 L484.6 1043.6 L487.5 1043.4 L490.4 1043.1 L493.3 1042.7 L496.2 1042.3 L499.1 1041.8 L502.0 1041.2 L505.0 1040.5 L507.9 1039.9 L510.9 1039.1 L513.8 1038.4 L516.8 1037.6 L519.7 1036.8 L522.7 1036.1 L525.7 1035.3 L528.7 1034.5 L531.7 1033.7 L534.7 1033.0 L537.7 1032.3 L540.7 1031.5 L543.7 1030.8 L546.8 1030.1 L549.8 1029.4 L552.8 1028.7 L555.8 1027.9 L558.8 1027.2 L561.8 1026.4 L564.7 1025.6 L567.7 1024.8 L570.6 1024.0 L573.5 1023.1 L576.4 1022.2 L579.2 1021.2 L582.0 1020.2 L584.8 1019.2 L587.5 1018.1 L590.2 1016.9 L592.9 1015.7 L595.5 1014.4 L598.1 1013.0 L600.6 1011.6 L603.1 1010.2 L605.6 1008.6 L608.0 1007.1 L610.4 1005.5 L612.8 1003.8 L615.2 1002.1 L617.6 1000.4 L619.9 998.7 L622.2 996.9 L624.5 995.0 L626.8 993.2 L629.1 991.3 L631.4 989.4 L633.6 987.5 L635.9 985.5 L638.1 983.6 L640.4 981.6 L642.7 979.6 L644.9 977.6 L647.2 975.7 L649.5 973.7 L651.8 971.7 L654.1 969.7 L656.4 967.7 L658.8 965.7 L661.1 963.7 L663.5 961.8 L665.9 959.8 L668.3 957.9 L670.8 956.0 L673.3 954.1 L675.8 952.3 L678.4 950.5 L680.9 948.7 L683.5 947.0 L686.1 945.3 L688.8 943.7 L691.4 942.1 L694.1 940.6 L696.8 939.1 L699.5 937.8 L702.2 936.5 L705.0 935.3 L707.7 934.2 L710.5 933.2 L713.2 932.3 L716.0 931.4 L718.8 930.7 L721.6 930.1 L724.4 929.7 L727.3 929.3 L730.1 929.1 L732.9 929.0 L735.7 929.1 L738.5 929.3 L741.4 929.6 L744.2 930.1 L747.0 930.8 L749.8 931.6 L752.6 932.5 L755.4 933.6 L758.2 934.7 L761.0 936.0 L763.7 937.4 L766.5 938.8 L769.2 940.3 L771.9 941.9 L774.6 943.5 L777.2 945.2 L779.8 946.8 L782.4 948.5 L785.0 950.2 L787.5 951.9 L790.0 953.6 L792.5 955.3 L795.0 957.0 L797.4 958.7 L799.9 960.4 L802.3 962.1 L804.8 963.8 L807.2 965.5 L809.6 967.2 L812.0 968.9 L814.5 970.6 L816.9 972.3 L819.4 973.9 L821.8 975.6 L824.3 977.2 L826.8 978.8 L829.2 980.5 L831.7 982.1 L834.2 983.7 L836.8 985.2 L839.3 986.8 L841.8 988.4 L844.4 989.9 L846.9 991.5 L849.5 993.0 L852.0 994.6 L854.6 996.1 L857.2 997.6 L859.7 999.2 L862.3 1000.7 L864.9 1002.2 L867.5 1003.7 L870.1 1005.2 L872.7 1006.7 L875.3 1008.2 L877.9 1009.7 L880.5 1011.2 L883.1 1012.7 L885.7 1014.2 L888.3 1015.8 L890.9 1017.3 L893.5 1018.8 L896.1 1020.3 L898.7 1021.8 L901.3 1023.3 L903.9 1024.8 L906.5 1026.4 L909.1 1027.9 L911.7 1029.5 L914.3 1031.0 L916.9 1032.6 L919.4 1034.1 L922.0 1035.7 L924.6 1037.3 L927.1 1038.9 L929.7 1040.5 L932.2 1042.1 L934.8 1043.7 L937.3 1045.3 L939.9 1046.9 L942.4 1048.5 L944.9 1050.1 L947.5 1051.7 L950.0 1053.3 L952.5 1054.9 L955.1 1056.5 L957.6 1058.1 L960.2 1059.6 L962.8 1061.1 L965.3 1062.6 L967.9 1064.1 L970.5 1065.6 L973.1 1067.0 L975.7 1068.4 L978.3 1069.8 L981.0 1071.1 L983.6 1072.4 L986.3 1073.7 L989.0 1074.9 L991.7 1076.1 L994.4 1077.2 L997.2 1078.3 L999.9 1079.4 L1002.7 1080.4 L1005.5 1081.3 L1008.4 1082.2 L1011.2 1083.1 L1014.1 1083.9 L1017.0 1084.6 L1020.0 1085.2 L1022.9 1085.8 L1025.9 1086.4 L1029.0 1086.8 L1032.0 1087.2 L1035.1 1087.5 L1038.2 1087.8 L1041.4 1088.1 L1044.5 1088.3 L1047.6 1088.6 L1050.7 1088.9 L1053.8 1089.3 L1056.8 1089.8 L1059.8 1090.4 L1062.7 1091.2 L1065.5 1092.1 L1068.3 1093.1 L1071.1 1094.2 L1073.8 1095.5 L1076.4 1096.8 L1079.0 1098.2 L1081.6 1099.7 L1084.1 1101.3 L1086.7 1102.9 L1089.2 1104.6 L1091.7 1106.3 L1094.2 1108.0 L1096.7 1109.7 L1099.2 1111.4 L1101.7 1113.1 L1104.2 1114.8 L1106.7 1116.5 L1109.2 1118.2 L1111.7 1119.8 L1114.2 1121.5 L1116.8 1123.1 L1119.3 1124.7 L1121.9 1126.3 L1124.4 1127.9 L1127.0 1129.4 L1129.6 1130.9 L1132.2 1132.4 L1134.8 1133.9 L1137.4 1135.4 L1140.0 1136.8 L1142.6 1138.2 L1145.3 1139.6 L1147.9 1141.0 L1150.6 1142.3 L1153.3 1143.6 L1156.0 1144.9 L1158.7 1146.1 L1161.4 1147.4 L1164.1 1148.5 L1166.8 1149.7 L1169.6 1150.8 L1172.4 1151.9 L1175.1 1152.9 L1177.9 1153.9 L1180.7 1154.9 L1183.6 1155.8 L1186.4 1156.7 L1189.2 1157.6 L1192.1 1158.4 L1195.0 1159.3 L1197.8 1160.1 L1200.7 1160.8 L1203.6 1161.6 L1206.5 1162.3 L1209.4 1163.0 L1212.4 1163.7 L1215.3 1164.3 L1218.2 1165.0 L1221.2 1165.6 L1224.1 1166.2 L1227.0 1166.8 L1230.0 1167.4 L1232.9 1168.0 L1235.9 1168.6 L1238.9 1169.2 L1241.8 1169.7 L1244.8 1170.3 L1247.7 1170.9 L1250.7 1171.4 L1253.7 1172.0 L1256.6 1172.5 L1259.6 1173.1 L1262.5 1173.7 L1265.5 1174.3 L1268.4 1174.9 L1271.4 1175.5 L1274.3 1176.1 L1277.3 1176.7 L1280.2 1177.3 L1283.1 1178.0 L1286.1 1178.6 L1289.0 1179.3 L1291.9 1179.9 L1294.8 1180.6 L1297.7 1181.3 L1300.6 1182.0 L1303.5 1182.8 L1306.4 1183.5 L1309.3 1184.2 L1312.2 1185.0 L1315.1 1185.8 L1318.0 1186.6 L1320.9 1187.4 L1323.7 1188.2 L1326.6 1189.1 L1329.5 1189.9 L1332.3 1190.8 L1335.2 1191.7 L1338.1 1192.6 L1340.9 1193.6 L1343.8 1194.5 L1346.6 1195.5 L1349.4 1196.5 L1352.3 1197.5 L1355.1 1198.5 L1358.0 1199.5 L1360.8 1200.5 L1363.7 1201.4 L1366.5 1202.4 L1369.4 1203.3 L1372.2 1204.1 L1375.1 1205.0 L1378.0 1205.7 L1380.9 1206.5 L1383.8 1207.1 L1386.8 1207.7 L1389.7 1208.2 L1392.7 1208.6 L1395.7 1209.0 L1398.6 1209.2 L1401.7 1209.5 L1404.7 1209.7 L1407.7 1209.9 L1410.7 1210.1 L1413.7 1210.3 L1416.7 1210.6 L1419.7 1210.9 L1422.6 1211.3 L1425.6 1211.7 L1428.5 1212.3 L1431.4 1212.9 L1434.3 1213.6 L1437.2 1214.3 L1440.1 1215.1 L1443.0 1215.9 L1445.9 1216.6 L1448.7 1217.4 L1451.6 1218.2 L1454.5 1218.9 L1457.5 1219.6 L1460.4 1220.4 L1463.3 1221.0 L1466.2 1221.7 L1469.2 1222.4 L1472.1 1223.1 L1475.0 1223.7 L1478.0 1224.3 L1480.9 1224.9 L1483.9 1225.5 L1486.9 1226.1 L1489.8 1226.7 L1492.8 1227.3 L1495.7 1227.8 L1498.7 1228.3 L1501.7 1228.9 L1504.6 1229.4 L1507.6 1229.9 L1510.5 1230.3 L1513.5 1230.8 L1516.5 1231.3 L1519.5 1231.7 L1522.4 1232.1 L1525.4 1232.6 L1528.4 1233.0 L1531.3 1233.4 L1534.3 1233.8 L1537.3 1234.1 L1540.3 1234.5 L1543.2 1234.8 L1546.2 1235.2 L1549.2 1235.5 L1552.2 1235.8 L1555.2 1236.1 L1558.1 1236.4 L1561.1 1236.7 L1564.1 1237.0 L1567.1 1237.3 L1570.1 1237.5 L1573.1 1237.8 L1576.0 1238.0 L1579.0 1238.3 L1582.0 1238.5 L1585.0 1238.7 L1588.0 1238.9 L1591.0 1239.1 L1594.0 1239.3 L1597.0 1239.5 L1600.0 1239.6 L1603.0 1239.8 L1605.9 1240.0 L1608.9 1240.1 L1611.9 1240.2 L1614.9 1240.4 L1617.9 1240.5 L1620.9 1240.6 L1623.9 1240.7 L1626.9 1240.8 L1629.9 1240.9 L1632.9 1241.0 L1635.9 1241.1 L1638.9 1241.2 L1641.9 1241.3 L1644.9 1241.3 L1647.9 1241.4 L1650.9 1241.4 L1653.9 1241.5 L1656.9 1241.5 L1659.9 1241.6 L1662.9 1241.6 L1665.9 1241.6 L1668.9 1241.7 L1671.9 1241.7 L1674.9 1241.7 L1677.9 1241.7 L1680.9 1241.7 L1684.0 1241.7 L1687.0 1241.7 L1690.0 1241.7 L1693.0 1241.7 L1696.0 1241.7 L1699.0 1241.7 L1702.0 1241.7 L1705.0 1241.7 L1708.0 1241.6 L1711.0 1241.6 L1714.0 1241.6 L1717.0 1241.6 L1720.0 1241.5 L1723.0 1241.5 L1726.0 1241.5 L1729.1 1241.4 L1732.1 1241.4 L1735.1 1241.4 L1738.1 1241.3 L1741.1 1241.3 L1744.1 1241.2 L1747.1 1241.2 L1750.1 1241.1 L1753.1 1241.1 L1756.1 1241.1 L1759.1 1241.0 L1762.1 1241.0 L1765.1 1240.9 L1768.2 1240.9 L1771.2 1240.8 L1774.2 1240.8 L1777.2 1240.8 L1780.2 1240.7 L1783.2 1240.7 L1786.2 1240.6 L1789.2 1240.6 L1792.2 1240.6 L1795.2 1240.5 L1798.2 1240.5 L1801.2 1240.5 L1804.2 1240.4 L1807.2 1240.4 L1810.2 1240.4 L1813.3 1240.3 L1816.3 1240.3 L1819.3 1240.3 L1822.3 1240.3 L1825.3 1240.3 L1828.3 1240.3 L1831.3 1240.2 L1834.3 1240.2 L1837.3 1240.2 L1840.3 1240.2 L1843.3 1240.2 L1846.3 1240.2 L1849.3 1240.2 L1852.3 1240.2 L1855.3 1240.2 L1858.3 1240.2 L1861.3 1240.2 L1864.3 1240.2 L1867.3 1240.2 L1870.3 1240.2 L1873.3 1240.2 L1876.3 1240.2 L1879.3 1240.2 L1882.3 1240.2 L1885.3 1240.3 L1888.3 1240.3 L1891.3 1240.3 L1894.3 1240.3 L1897.3 1240.3 L1900.3 1240.3 L1903.3 1240.3 L1906.3 1240.4 L1909.3 1240.4 L1912.3 1240.4 L1915.3 1240.4 L1918.3 1240.4 L1921.3 1240.4 L1924.3 1240.5 L1927.3 1240.5 L1930.3 1240.5 L1933.3 1240.5 L1936.3 1240.5 L1939.3 1240.6 L1942.3 1240.6 L1945.3 1240.6 L1948.3 1240.6 L1951.3 1240.6 L1954.3 1240.7 L1957.3 1240.7 L1960.3 1240.7 L1963.3 1240.7 L1966.3 1240.8 L1969.3 1240.8 L1972.3 1240.8 L1975.3 1240.8 L1978.3 1240.8 L1981.3 1240.9 L1984.3 1240.9 L1987.3 1240.9 L1990.3 1240.9 L1993.3 1240.9 L1996.3 1240.9 L1999.3 1241.0 L2002.3 1241.0 L2005.3 1241.0 L2008.3 1241.0 L2011.3 1241.0 L2014.3 1241.0 L2017.3 1241.1 L2020.3 1241.1 L2023.3 1241.1 L2026.3 1241.1 L2029.3 1241.1 L2032.3 1241.1 L2035.3 1241.1 L2038.3 1241.1 L2041.3 1241.1 L2044.3 1241.1 L2047.3 1241.1 L2050.3 1241.1 L2053.3 1241.1 L2056.3 1241.1 L2059.3 1241.1 L2062.3 1241.1 L2065.4 1241.1 L2068.4 1241.1 L2071.4 1241.1 L2074.4 1241.1 L2077.4 1241.1 L2080.4 1241.1 L2083.4 1241.0 L2086.4 1241.0 L2089.4 1241.0 L2092.4 1241.0 L2095.4 1241.0 L2098.4 1240.9 L2101.4 1240.9 L2104.4 1240.9 L2107.4 1240.9 L2110.4 1240.8 L2113.4 1240.8 L2116.4 1240.8 L2119.5 1240.7 L2122.5 1240.7 L2125.5 1240.6 L2128.5 1240.6 L2131.5 1240.5 L2134.5 1240.5" stroke="#d52bff"/>
<path d="M202.0 458.0 L202.2 461.8 L202.4 465.2 L202.7 468.2 L203.2 470.9 L203.7 473.4 L204.3 475.8 L205.1 478.1 L206.0 480.5 L207.0 483.0 L208.2 485.7 L209.6 488.7 L211.2 491.9 L212.9 495.4 L214.8 498.7 L216.8 501.8 L218.9 504.4 L221.1 506.4 L223.3 507.5 L225.6 507.8 L227.9 507.2 L230.1 505.9 L232.2 504.1 L234.1 501.7 L235.8 499.0 L237.3 496.0 L238.6 492.8 L239.9 489.5 L241.1 486.3 L242.2 483.2 L243.3 480.4 L244.4 477.7 L245.5 475.1 L246.7 472.7 L248.0 470.3 L249.3 468.0 L250.9 465.6 L252.5 463.2 L254.4 460.8 L256.5 458.2 L258.7 455.6 L261.1 453.3 L263.6 451.4 L266.0 450.3 L268.5 450.1 L270.9 451.0 L273.2 452.6 L275.5 454.9 L277.7 457.6 L279.9 460.6 L282.1 463.7 L284.3 466.6 L286.5 469.2 L288.8 471.2 L291.0 472.6 L293.3 473.1 L295.7 472.5 L298.0 470.9 L300.1 468.6 L301.8 466.0 L303.1 463.1 L304.0 460.2 L304.8 457.2 L305.4 454.3 L305.9 451.3 L306.4 448.3 L306.8 445.4 L307.2 442.4 L307.5 439.5 L307.9 436.5 L308.3 433.5 L308.6 430.6 L309.0 427.6 L309.4 424.6 L309.8 421.7 L310.1 418.7 L310.5 415.7 L310.9 412.7 L311.2 409.7 L311.6 406.8 L312.0 403.8 L312.4 400.8 L312.7 397.8 L313.1 394.8 L313.5 391.8 L313.9 388.8 L314.2 385.8 L314.6 382.8 L315.0 379.9 L315.4 376.9 L315.7 373.9 L316.1 370.9 L316.5 367.9 L316.9 364.9 L317.2 361.9 L317.6 359.0 L318.0 356.0 L318.4 353.0 L318.8 350.0 L319.2 347.1 L319.5 344.1 L319.9 341.1 L320.3 338.1 L320.7 335.2 L321.1 332.2 L321.5 329.3 L321.9 326.3 L322.2 323.3 L322.6 320.4 L323.0 317.4 L323.4 314.4 L323.8 311.5 L324.2 308.5 L324.6 305.5 L324.9 302.6 L325.3 299.6 L325.7 296.6 L326.1 293.7 L326.5 290.7 L326.8 287.7 L327.2 284.7 L327.6 281.7 L328.0 278.7 L328.3 275.7 L328.7 272.7 L329.1 269.7 L329.4 266.7 L329.8 263.7 L330.1 260.7 L330.5 257.7 L330.9 254.6 L331.2 251.6 L331.6 248.6 L331.9 245.5 L332.3 242.5 L332.6 239.5 L333.0 236.5 L333.4 233.5 L333.8 230.6 L334.2 227.7 L334.7 224.9 L335.2 222.2 L335.7 219.5 L336.3 216.7 L337.1 213.8 L338.0 210.6 L339.2 207.0 L340.8 203.8 L342.7 202.2 L344.8 203.1 L346.5 205.5 L347.8 208.2 L348.7 211.0 L349.4 213.9 L349.8 216.9 L350.2 219.9 L350.5 222.9 L350.8 225.9 L351.1 228.9 L351.4 231.9 L351.7 234.9 L352.0 237.9 L352.3 240.9 L352.6 243.9 L352.9 246.9 L353.2 249.9 L353.5 252.9 L353.8 255.9 L354.0 258.9 L354.3 261.9 L354.6 264.9 L354.9 267.9 L355.2 270.9 L355.5 273.9 L355.8 276.9 L356.1 279.9 L356.4 282.9 L356.7 285.9 L357.0 288.9 L357.3 291.9 L357.6 294.9 L357.9 297.9 L358.2 300.8 L358.5 303.8 L358.8 306.8 L359.1 309.8 L359.4 312.8 L359.7 315.8 L360.0 318.8 L360.3 321.7 L360.5 324.7 L360.8 327.7 L361.1 330.7 L361.4 333.7 L361.7 336.7 L362.0 339.7 L362.3 342.6 L362.6 345.6 L362.8 348.6 L363.1 351.6 L363.4 354.6 L363.7 357.6 L364.0 360.6 L364.2 363.5 L364.5 366.5 L364.8 369.5 L365.1 372.5 L365.4 375.5 L365.6 378.5 L365.9 381.4 L366.2 384.4 L366.4 387.4 L366.7 390.4 L367.0 393.4 L367.3 396.4 L367.5 399.4 L367.8 402.4 L368.1 405.3 L368.3 408.3 L368.6 411.3 L368.8 414.3 L369.1 417.3 L369.4 420.3 L369.6 423.3 L369.9 426.3 L370.1 429.3 L370.4 432.3 L370.7 435.3 L370.9 438.2 L371.2 441.2 L371.4 444.2 L371.7 447.2 L371.9 450.2 L372.2 453.2 L372.5 456.2 L372.7 459.2 L373.0 462.2 L373.2 465.2 L373.5 468.2 L373.7 471.2 L374.0 474.2 L374.2 477.1 L374.5 480.1 L374.7 483.1 L375.0 486.1 L375.2 489.1 L375.5 492.1 L375.7 495.1 L376.0 498.1 L376.2 501.1 L376.5 504.1 L376.7 507.1 L377.0 510.1 L377.2 513.1 L377.5 516.1 L377.7 519.1 L378.0 522.1 L378.2 525.1 L378.5 528.1 L378.7 531.1 L379.0 534.0 L379.2 537.0 L379.5 540.0 L379.8 543.0 L380.0 546.0 L380.3 549.0 L380.5 552.0 L380.8 555.0 L381.0 558.0 L381.3 561.0 L381.5 564.0 L381.8 567.0 L382.0 570.0 L382.3 573.0 L382.6 576.0 L382.8 579.0 L383.1 582.0 L383.3 585.0 L383.6 588.0 L383.9 591.0 L384.1 593.9 L384.4 596.9 L384.7 599.9 L384.9 602.9 L385.2 605.9 L385.5 608.9 L385.7 611.9 L386.0 614.9 L386.3 617.9 L386.5 620.9 L386.8 623.9 L387.1 626.9 L387.4 629.9 L387.7 632.8 L388.0 635.8 L388.3 638.8 L388.6 641.8 L388.9 644.8 L389.2 647.8 L389.5 650.8 L389.9 653.7 L390.2 656.7 L390.6 659.7 L390.9 662.7 L391.3 665.7 L391.6 668.6 L392.0 671.6 L392.4 674.6 L392.8 677.6 L393.1 680.5 L393.6 683.5 L394.0 686.5 L394.4 689.4 L394.8 692.4 L395.3 695.4 L395.7 698.3 L396.2 701.3 L396.7 704.2 L397.2 707.2 L397.7 710.1 L398.2 713.1 L398.7 716.0 L399.2 719.0 L399.8 721.9 L400.3 724.8 L400.9 727.8 L401.5 730.7 L402.1 733.6 L402.7 736.6 L403.3 739.5 L404.0 742.4 L404.6 745.3 L405.3 748.3 L406.0 751.2 L406.7 754.1 L407.4 757.0 L408.2 759.9 L408.9 762.8 L409.7 765.7 L410.5 768.6 L411.3 771.5 L412.1 774.4 L413.0 777.2 L413.9 780.1 L414.7 783.0 L415.6 785.9 L416.6 788.7 L417.5 791.6 L418.5 794.5 L419.4 797.3 L420.5 800.2 L421.5 803.0 L422.5 805.9 L423.6 808.7 L424.7 811.5 L425.8 814.4 L426.9 817.2 L428.1 820.0 L429.3 822.8 L430.5 825.6 L431.7 828.4 L433.0 831.1 L434.4 833.8 L435.8 836.5 L437.2 839.2 L438.7 841.8 L440.2 844.4 L441.8 846.9 L443.4 849.3 L445.2 851.8 L446.9 854.1 L448.8 856.4 L450.7 858.7 L452.7 860.8 L454.8 862.9 L456.9 864.9 L459.2 866.8 L461.5 868.7 L463.9 870.4 L466.4 872.1 L469.0 873.6 L471.7 875.0 L474.4 876.2 L477.2 877.3 L480.0 878.1 L482.9 878.8 L485.8 879.3 L488.8 879.6 L491.8 879.7 L494.8 879.7 L497.8 879.5 L500.8 879.2 L503.9 878.7 L506.9 878.1 L509.9 877.4 L512.9 876.6 L515.9 875.7 L518.8 874.7 L521.7 873.6 L524.5 872.4 L527.3 871.1 L530.0 869.8 L532.7 868.5 L535.3 867.0 L537.9 865.5 L540.4 864.0 L542.9 862.3 L545.3 860.7 L547.7 858.9 L550.0 857.2 L552.3 855.3 L554.5 853.5 L556.7 851.5 L558.8 849.6 L560.9 847.5 L563.0 845.5 L565.0 843.4 L567.0 841.2 L569.0 839.0 L570.9 836.8 L572.8 834.6 L574.7 832.3 L576.5 829.9 L578.3 827.6 L580.0 825.2 L581.8 822.8 L583.5 820.3 L585.2 817.9 L586.9 815.4 L588.5 812.9 L590.1 810.3 L591.7 807.8 L593.3 805.2 L594.9 802.7 L596.4 800.1 L597.9 797.4 L599.5 794.8 L601.0 792.2 L602.5 789.6 L603.9 786.9 L605.4 784.3 L606.9 781.6 L608.4 778.9 L609.8 776.3 L611.3 773.6 L612.8 770.9 L614.2 768.3 L615.7 765.6 L617.2 762.9 L618.6 760.3 L620.1 757.6 L621.6 755.0 L623.1 752.4 L624.6 749.7 L626.2 747.1 L627.7 744.5 L629.2 742.0 L630.8 739.4 L632.4 736.9 L634.0 734.3 L635.6 731.8 L637.3 729.3 L639.0 726.9 L640.7 724.4 L642.4 722.0 L644.1 719.6 L645.9 717.2 L647.7 714.9 L649.6 712.6 L651.5 710.3 L653.4 708.1 L655.3 705.9 L657.3 703.7 L659.3 701.5 L661.3 699.3 L663.3 697.1 L665.4 695.0 L667.4 692.8 L669.5 690.7 L671.6 688.5 L673.7 686.3 L675.8 684.1 L678.0 682.0 L680.1 679.8 L682.2 677.5 L684.4 675.3 L686.5 673.0 L688.7 670.8 L690.9 668.6 L693.1 666.4 L695.3 664.2 L697.6 662.2 L699.9 660.2 L702.3 658.3 L704.7 656.6 L707.2 654.9 L709.7 653.4 L712.3 652.1 L714.9 651.0 L717.6 650.0 L720.3 649.2 L723.0 648.5 L725.8 648.1 L728.5 647.9 L731.2 647.9 L734.0 648.1 L736.7 648.6 L739.3 649.3 L742.0 650.2 L744.6 651.4 L747.1 652.8 L749.6 654.4 L752.1 656.2 L754.5 658.1 L756.9 660.2 L759.2 662.3 L761.5 664.5 L763.8 666.7 L766.0 669.0 L768.1 671.3 L770.2 673.6 L772.3 675.9 L774.4 678.2 L776.4 680.6 L778.3 682.9 L780.3 685.3 L782.2 687.7 L784.0 690.1 L785.9 692.5 L787.7 694.9 L789.5 697.3 L791.2 699.7 L793.0 702.2 L794.7 704.6 L796.4 707.1 L798.1 709.5 L799.8 712.0 L801.5 714.4 L803.1 716.9 L804.8 719.4 L806.4 721.9 L808.0 724.3 L809.6 726.8 L811.3 729.3 L812.9 731.8 L814.5 734.3 L816.1 736.8 L817.7 739.2 L819.4 741.7 L821.0 744.2 L822.6 746.7 L824.3 749.1 L826.0 751.6 L827.6 754.0 L829.3 756.5 L831.1 758.9 L832.8 761.4 L834.5 763.8 L836.3 766.2 L838.0 768.6 L839.8 771.1 L841.6 773.5 L843.4 775.9 L845.2 778.2 L847.1 780.6 L848.9 783.0 L850.7 785.4 L852.6 787.8 L854.5 790.1 L856.4 792.5 L858.2 794.8 L860.1 797.2 L862.0 799.5 L864.0 801.8 L865.9 804.1 L867.8 806.5 L869.7 808.8 L871.7 811.1 L873.6 813.4 L875.6 815.6 L877.5 817.9 L879.5 820.2 L881.5 822.5 L883.5 824.7 L885.4 827.0 L887.4 829.2 L889.4 831.5 L891.4 833.7 L893.3 836.0 L895.3 838.2 L897.3 840.4 L899.3 842.7 L901.3 844.9 L903.2 847.1 L905.2 849.4 L907.2 851.6 L909.1 853.9 L911.1 856.1 L913.0 858.4 L915.0 860.6 L916.9 862.9 L918.9 865.2 L920.8 867.5 L922.7 869.8 L924.6 872.1 L926.5 874.4 L928.3 876.7 L930.2 879.1 L932.0 881.5 L933.9 883.8 L935.7 886.2 L937.5 888.6 L939.3 891.1 L941.1 893.5 L942.9 895.9 L944.7 898.4 L946.4 900.8 L948.2 903.3 L950.0 905.7 L951.8 908.2 L953.6 910.6 L955.4 913.0 L957.2 915.4 L959.1 917.8 L961.0 920.1 L962.8 922.4 L964.8 924.8 L966.7 927.0 L968.7 929.3 L970.7 931.5 L972.7 933.7 L974.8 935.8 L977.0 937.9 L979.1 939.9 L981.4 941.9 L983.6 943.9 L985.9 945.8 L988.3 947.6 L990.7 949.4 L993.2 951.1 L995.8 952.7 L998.4 954.3 L1001.0 955.8 L1003.7 957.2 L1006.4 958.4 L1009.2 959.6 L1012.0 960.7 L1014.9 961.6 L1017.8 962.5 L1020.7 963.2 L1023.7 963.7 L1026.7 964.1 L1029.7 964.5 L1032.7 964.8 L1035.7 965.1 L1038.7 965.3 L1041.7 965.6 L1044.7 966.0 L1047.7 966.4 L1050.6 967.0 L1053.4 967.7 L1056.2 968.5 L1059.0 969.6 L1061.7 970.8 L1064.3 972.1 L1066.9 973.6 L1069.5 975.1 L1072.0 976.8 L1074.5 978.6 L1076.9 980.4 L1079.3 982.3 L1081.7 984.2 L1084.1 986.2 L1086.4 988.2 L1088.7 990.1 L1091.1 992.1 L1093.3 994.0 L1095.6 996.0 L1097.9 997.9 L1100.1 999.8 L1102.4 1001.8 L1104.6 1003.7 L1106.8 1005.7 L1109.0 1007.7 L1111.1 1009.7 L1113.2 1011.7 L1115.4 1013.8 L1117.4 1016.0 L1119.5 1018.1 L1121.6 1020.3 L1123.6 1022.6 L1125.6 1024.8 L1127.7 1027.1 L1129.7 1029.3 L1131.7 1031.6 L1133.7 1033.9 L1135.7 1036.2 L1137.7 1038.5 L1139.8 1040.7 L1141.8 1043.0 L1143.8 1045.2 L1145.9 1047.5 L1148.0 1049.7 L1150.1 1051.8 L1152.2 1054.0 L1154.3 1056.1 L1156.5 1058.2 L1158.7 1060.2 L1161.0 1062.2 L1163.2 1064.1 L1165.5 1066.0 L1167.9 1067.8 L1170.3 1069.5 L1172.7 1071.2 L1175.2 1072.8 L1177.7 1074.4 L1180.3 1075.9 L1182.9 1077.3 L1185.5 1078.7 L1188.1 1080.0 L1190.8 1081.3 L1193.6 1082.6 L1196.3 1083.8 L1199.1 1084.9 L1201.9 1086.0 L1204.7 1087.1 L1207.5 1088.1 L1210.4 1089.1 L1213.2 1090.1 L1216.1 1091.0 L1219.0 1092.0 L1221.9 1092.9 L1224.8 1093.7 L1227.7 1094.6 L1230.6 1095.4 L1233.5 1096.3 L1236.5 1097.1 L1239.4 1097.9 L1242.3 1098.7 L1245.2 1099.5 L1248.1 1100.3 L1251.0 1101.1 L1253.9 1102.0 L1256.7 1102.8 L1259.5 1103.8 L1262.4 1104.7 L1265.1 1105.7 L1267.9 1106.8 L1270.6 1108.0 L1273.3 1109.3 L1275.9 1110.6 L1278.5 1112.1 L1281.1 1113.6 L1283.6 1115.3 L1286.0 1117.0 L1288.5 1118.8 L1291.0 1120.6 L1293.4 1122.4 L1295.9 1124.2 L1298.4 1125.9 L1300.9 1127.6 L1303.4 1129.3 L1306.0 1130.8 L1308.6 1132.2 L1311.3 1133.4 L1314.1 1134.5 L1316.9 1135.5 L1319.7 1136.3 L1322.6 1137.0 L1325.6 1137.4 L1328.7 1137.7 L1331.8 1137.8 L1334.9 1137.8 L1338.0 1138.0 L1340.9 1138.5 L1343.6 1139.3 L1346.3 1140.3 L1348.9 1141.6 L1351.4 1142.9 L1354.0 1144.4 L1356.5 1145.9 L1359.1 1147.5 L1361.6 1149.2 L1364.2 1150.9 L1366.7 1152.6 L1369.3 1154.3 L1371.9 1156.1 L1374.5 1157.8 L1377.0 1159.5 L1379.7 1161.1 L1382.3 1162.7 L1384.9 1164.2 L1387.6 1165.6 L1390.3 1166.9 L1393.0 1168.1 L1395.8 1169.2 L1398.6 1170.1 L1401.4 1170.8 L1404.3 1171.4 L1407.1 1171.8 L1410.1 1172.0 L1413.1 1172.1 L1416.0 1172.0 L1419.1 1171.8 L1422.1 1171.5 L1425.1 1171.1 L1428.2 1170.7 L1431.2 1170.4 L1434.3 1170.0 L1437.3 1169.7 L1440.3 1169.4 L1443.3 1169.3 L1446.3 1169.3 L1449.2 1169.5 L1452.1 1169.8 L1454.9 1170.4 L1457.7 1171.2 L1460.4 1172.2 L1463.1 1173.4 L1465.8 1174.8 L1468.4 1176.3 L1471.1 1177.8 L1473.7 1179.4 L1476.3 1181.0 L1478.9 1182.6 L1481.6 1184.1 L1484.3 1185.5 L1487.0 1186.8 L1489.7 1188.0 L1492.5 1189.2 L1495.2 1190.3 L1498.0 1191.3 L1500.8 1192.3 L1503.7 1193.3 L1506.5 1194.2 L1509.3 1195.0 L1512.2 1195.8 L1515.1 1196.6 L1518.0 1197.3 L1520.8 1198.1 L1523.7 1198.8 L1526.7 1199.5 L1529.6 1200.2 L1532.5 1200.9 L1535.4 1201.6 L1538.3 1202.3 L1541.2 1203.0 L1544.2 1203.8 L1547.1 1204.5 L1550.0 1205.2 L1553.0 1206.0 L1555.9 1206.7 L1558.8 1207.4 L1561.7 1208.2 L1564.7 1208.8 L1567.6 1209.5 L1570.6 1210.2 L1573.5 1210.8 L1576.5 1211.4 L1579.4 1212.0 L1582.4 1212.5 L1585.3 1213.0 L1588.3 1213.5 L1591.3 1213.9 L1594.2 1214.3 L1597.2 1214.6 L1600.2 1214.9 L1603.2 1215.1 L1606.2 1215.3 L1609.2 1215.4 L1612.1 1215.5 L1615.1 1215.6 L1618.1 1215.7 L1621.1 1215.8 L1624.1 1215.8 L1627.1 1215.9 L1630.1 1215.9 L1633.1 1215.9 L1636.1 1215.9 L1639.1 1216.0 L1642.1 1216.0 L1645.1 1216.0 L1648.1 1216.0 L1651.1 1216.0 L1654.1 1216.0 L1657.1 1216.0 L1660.1 1216.0 L1663.1 1216.0 L1666.1 1216.0 L1669.1 1216.0 L1672.1 1216.0 L1675.1 1216.0 L1678.1 1216.0 L1681.1 1216.0 L1684.2 1216.0 L1687.2 1216.0 L1690.2 1216.0 L1693.2 1216.0 L1696.2 1215.9 L1699.2 1215.9 L1702.2 1215.9 L1705.2 1215.9 L1708.2 1215.9 L1711.2 1215.9 L1714.2 1215.9 L1717.2 1215.9 L1720.2 1215.8 L1723.2 1215.8 L1726.2 1215.8 L1729.2 1215.8 L1732.2 1215.8 L1735.2 1215.8 L1738.2 1215.8 L1741.2 1215.8 L1744.2 1215.8 L1747.2 1215.8 L1750.2 1215.8 L1753.2 1215.8 L1756.2 1215.8 L1759.2 1215.8 L1762.2 1215.8 L1765.2 1215.8 L1768.2 1215.8 L1771.2 1215.8 L1774.2 1215.8 L1777.2 1215.8 L1780.2 1215.8 L1783.2 1215.8 L1786.2 1215.8 L1789.2 1215.8 L1792.2 1215.8 L1795.2 1215.8 L1798.3 1215.8 L1801.3 1215.9 L1804.3 1215.9 L1807.3 1215.9 L1810.3 1215.9 L1813.3 1215.9 L1816.3 1215.9 L1819.3 1215.9 L1822.3 1215.9 L1825.3 1215.9 L1828.3 1215.9 L1831.3 1216.0 L1834.3 1216.0 L1837.3 1216.0 L1840.3 1216.0 L1843.3 1216.0 L1846.3 1216.0 L1849.3 1216.0 L1852.3 1216.0 L1855.3 1216.1 L1858.3 1216.1 L1861.3 1216.1 L1864.3 1216.1 L1867.3 1216.1 L1870.3 1216.1 L1873.3 1216.2 L1876.3 1216.2 L1879.3 1216.2 L1882.3 1216.2 L1885.3 1216.2 L1888.3 1216.2 L1891.3 1216.2 L1894.3 1216.3 L1897.3 1216.3 L1900.3 1216.3 L1903.3 1216.3 L1906.3 1216.3 L1909.3 1216.3 L1912.3 1216.3 L1915.3 1216.4 L1918.3 1216.4 L1921.3 1216.4 L1924.3 1216.4 L1927.3 1216.4 L1930.3 1216.4 L1933.3 1216.4 L1936.3 1216.5 L1939.4 1216.5 L1942.4 1216.5 L1945.4 1216.5 L1948.4 1216.5 L1951.4 1216.5 L1954.4 1216.5 L1957.4 1216.5 L1960.4 1216.5 L1963.4 1216.6 L1966.4 1216.6 L1969.4 1216.6 L1972.4 1216.6 L1975.4 1216.6 L1978.4 1216.6 L1981.4 1216.6 L1984.4 1216.6 L1987.4 1216.6 L1990.4 1216.6 L1993.4 1216.6 L1996.4 1216.6 L1999.4 1216.6 L2002.4 1216.6 L2005.4 1216.7 L2008.4 1216.7 L2011.4 1216.7 L2014.4 1216.7 L2017.4 1216.7 L2020.4 1216.7 L2023.4 1216.7 L2026.4 1216.7 L2029.4 1216.7 L2032.4 1216.7 L2035.4 1216.6 L2038.4 1216.6 L2041.4 1216.6 L2044.4 1216.6 L2047.4 1216.6 L2050.4 1216.6 L2053.4 1216.6 L2056.4 1216.6 L2059.4 1216.6 L2062.4 1216.6 L2065.4 1216.6 L2068.4 1216.6 L2071.4 1216.5 L2074.4 1216.5 L2077.5 1216.5 L2080.5 1216.5 L2083.5 1216.5 L2086.5 1216.5 L2089.5 1216.4 L2092.5 1216.4 L2095.5 1216.4 L2098.5 1216.4 L2101.5 1216.3 L2104.5 1216.3 L2107.5 1216.3 L2110.5 1216.3 L2113.5 1216.2 L2116.5 1216.2 L2119.5 1216.2 L2122.5 1216.1 L2125.5 1216.1 L2128.5 1216.1 L2131.5 1216.0 L2134.5 1216.0" stroke="#0000f5"/>
</g>
<g class="tl">
<text x="416.5" y="1502">400</text>
<text x="845.8" y="1502">500</text>
<text x="1275.0" y="1502">600</text>
<text x="1704.3" y="1502">700</text>
<text x="2133.7" y="1502">800</text>
</g>
<text class="al" transform="translate(1167.8 1624) scale(0.938 1)" style="font-size:75.4px">Wavelength (nm)</text>
<text class="al" transform="translate(78 741.6) rotate(-90) scale(0.97 1)" style="font-size:74.5px">Intensity (a.u.)</text>
<g class="lg">
<line x1="1578" y1="211.5" x2="1727" y2="211.5" stroke="#6fff6c" stroke-width="10.5" stroke-linecap="round"/>
<text transform="translate(1777.5 234.0) scale(1 0.95)" fill="#6fff6c" stroke="#6fff6c">C<tspan class="sub" dy="16.5">71</tspan><tspan dx="3.5" dy="-16.5">H</tspan><tspan class="sub" dy="16.5">2</tspan><tspan dy="-16.5">-I</tspan></text>
<line x1="1578" y1="293.5" x2="1727" y2="293.5" stroke="#6cffff" stroke-width="10.5" stroke-linecap="round"/>
<text transform="translate(1777.5 316.5) scale(1 0.95)" fill="#6cffff" stroke="#6cffff">C<tspan class="sub" dy="16.5">71</tspan><tspan dx="3.5" dy="-16.5">H</tspan><tspan class="sub" dy="16.5">2</tspan><tspan dy="-16.5">-II</tspan></text>
<line x1="1578" y1="375.3" x2="1727" y2="375.3" stroke="#d52bff" stroke-width="10.5" stroke-linecap="round"/>
<text transform="translate(1777.5 399.0) scale(1 0.95)" fill="#d52bff" stroke="#d52bff">C<tspan class="sub" dy="16.5">71</tspan><tspan dx="3.5" dy="-16.5">H</tspan><tspan class="sub" dy="16.5">2</tspan><tspan dy="-16.5">-III</tspan></text>
<line x1="1578" y1="456.5" x2="1727" y2="456.5" stroke="#0000f5" stroke-width="10.5" stroke-linecap="round"/>
<text transform="translate(1777.5 480.0) scale(1 0.95)" fill="#0000f5" stroke="#0000f5">C<tspan class="sub" dy="16.5">70</tspan></text>
</g>
</svg>
</body></html>
